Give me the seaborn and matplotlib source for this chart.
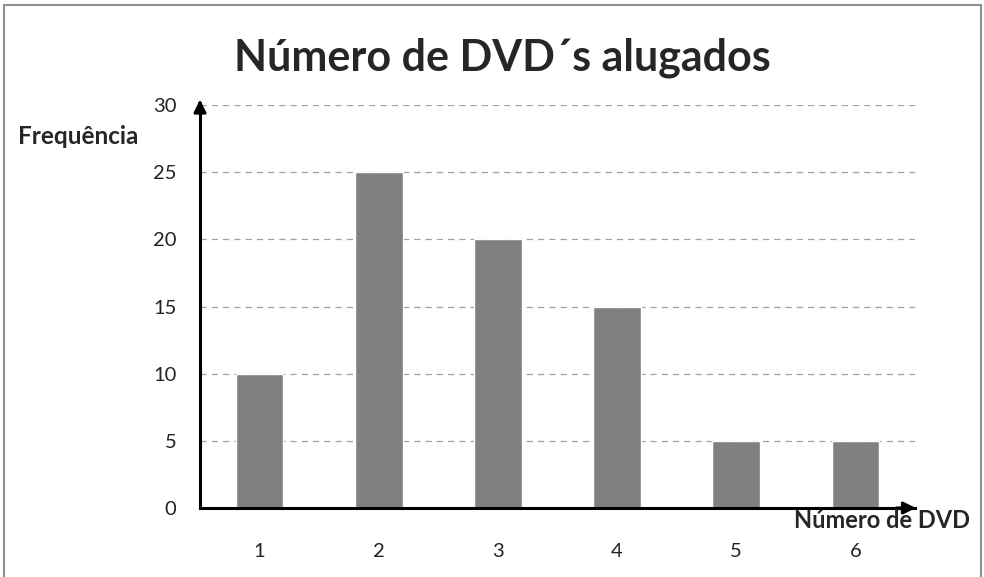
import numpy as np
import pandas as pd
import matplotlib
matplotlib.use("Agg")
import matplotlib.pyplot as plt
from matplotlib.patches import Rectangle
import seaborn as sns

# dados
categorias = ["1", "2", "3", "4", "5", "6"]
frequencias = [10, 25, 20, 15, 5, 5]
yticks = [0, 5, 10, 15, 20, 25, 30]

df = pd.DataFrame({"dvd": categorias, "freq": frequencias})

sns.set_style("white")
plt.rcParams["font.family"] = ["Lato", "DejaVu Sans"]

fig = plt.figure(figsize=(9.84, 5.77), dpi=100)
ax = fig.add_axes([200 / 984, 1 - 508 / 577, 715 / 984, 403 / 577])

sns.barplot(data=df, x="dvd", y="freq", color="#808080", saturation=1,
            width=0.4, ax=ax, zorder=3)

ax.set_xlim(-0.5, 5.5)
ax.set_ylim(0, 30)
ax.set_yticks(yticks)
ax.yaxis.grid(True, linestyle=(0, (5, 4)), color="#a0a0a0", linewidth=0.9, zorder=0)
ax.xaxis.grid(False)

for s in ["top", "right"]:
    ax.spines[s].set_visible(False)
for s in ["left", "bottom"]:
    ax.spines[s].set_linewidth(2.2)
    ax.spines[s].set_color("black")
    ax.spines[s].set_zorder(4)

# setas nos eixos
ax.annotate("", xy=(0, 1.02), xytext=(0, 0.99), xycoords="axes fraction",
            arrowprops=dict(arrowstyle="-|>", color="black", lw=2.2,
                            mutation_scale=18), annotation_clip=False)
ax.annotate("", xy=(1.005, 0), xytext=(0.97, 0), xycoords="axes fraction",
            arrowprops=dict(arrowstyle="-|>", color="black", lw=2.2,
                            mutation_scale=18), annotation_clip=False)

ax.set_xlabel("")
ax.set_ylabel("")
ax.tick_params(axis="x", which="major", length=0, pad=25, labelsize=14.5, colors="#222222")
ax.set_xticks(np.arange(-0.5, 6, 1.0), minor=True)
ax.tick_params(axis="x", which="minor", direction="out", length=6, width=2, color="black")
ax.tick_params(axis="y", direction="inout", length=8, width=2, color="black",
               labelsize=14.5, pad=13, labelcolor="#222222")

fig.text(502 / 984, 1 - 58 / 577, "Número de DVD´s alugados", ha="center", va="center",
         fontsize=31, fontweight="bold")
fig.text(18 / 984, 1 - 137 / 577, "Frequência", ha="left", va="center",
         fontsize=17.5, fontweight="bold")
fig.text(970 / 984, 1 - 521 / 577, "Número de DVD", ha="right", va="center",
         fontsize=17, fontweight="bold")

fig.patches.append(Rectangle((4 / 984, -0.01), 977 / 984, 1 - 5 / 577 + 0.01,
                             transform=fig.transFigure, fill=False,
                             edgecolor="#909090", linewidth=1.5))

fig.savefig("out.png", dpi=100)
